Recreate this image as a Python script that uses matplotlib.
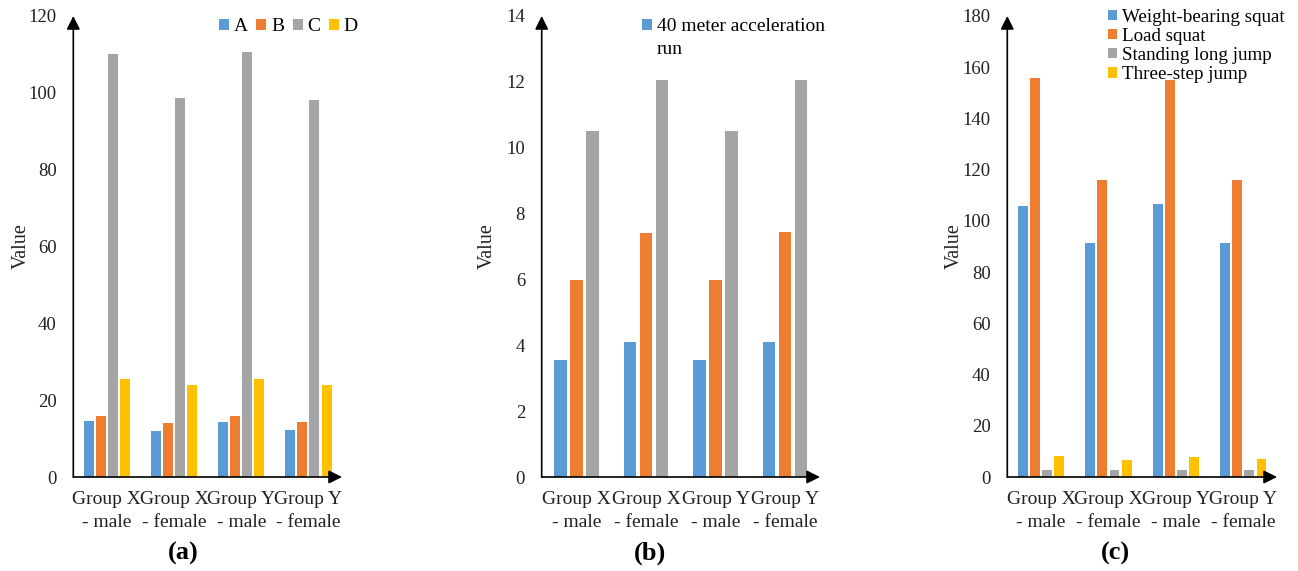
import matplotlib
matplotlib.use("Agg")
import matplotlib.pyplot as plt
import numpy as np
from matplotlib.patches import Rectangle

plt.rcParams['font.family'] = 'Liberation Serif'

# Excel default palette
BLUE, ORANGE, GRAY, YELLOW = '#5B9BD5', '#ED7D31', '#A5A5A5', '#FFC000'

groups = ["Group X\n- male", "Group X\n- female", "Group Y\n- male", "Group Y\n- female"]

# (a)
a_names = ["A", "B", "C", "D"]
a_A = [14.5, 12.1, 14.2, 12.3]
a_B = [16.0, 14.0, 16.0, 14.2]
a_C = [110.2, 98.7, 110.5, 98.1]
a_D = [25.6, 23.9, 25.6, 23.9]

# (b) - only the first series has a legend entry
b_name = "40 meter acceleration"
b_blue = [3.54, 4.11, 3.54, 4.09]
b_orange = [5.99, 7.40, 5.99, 7.44]
b_gray = [10.52, 12.07, 10.50, 12.07]

# (c)
c_names = ["Weight-bearing squat", "Load squat", "Standing long jump", "Three-step jump"]
c_weight = [105.7, 91.5, 106.4, 91.5]
c_load = [155.8, 115.8, 155.1, 115.8]
c_long = [2.8, 2.6, 2.8, 2.6]
c_three = [8.2, 6.5, 7.8, 7.1]

W, H = 1298, 571
fig = plt.figure(figsize=(W / 100, H / 100), dpi=100)

bottom = 1 - 477 / H
height = (477 - 16) / H
ax_a = fig.add_axes([73.3 / W, bottom, (342 - 73.3) / W, height])
ax_b = fig.add_axes([541.7 / W, bottom, (820 - 541.7) / W, height])
ax_c = fig.add_axes([1007.3 / W, bottom, (1277 - 1007.3) / W, height])

x = np.arange(len(groups))


def bars(ax, series, colors, pitch, width, labels):
    n = len(series)
    handles = []
    for i, (vals, col) in enumerate(zip(series, colors)):
        h = ax.bar(x + (i - (n - 1) / 2) * pitch, vals, width, color=col,
                   label=labels[i] if labels else None)
        handles.append(h)
    return handles


def style(ax, ymax, step):
    ax.set_xlim(-0.5, 3.5)
    ax.set_ylim(0, ymax)
    ax.set_yticks(np.arange(0, ymax + 1e-9, step))
    ax.set_xticks(x)
    ax.set_xticklabels(groups, fontsize=14, linespacing=1.45)
    ax.tick_params(axis='y', length=0, pad=12, labelsize=13.5, labelcolor='#222222')
    ax.tick_params(axis='x', length=0, pad=10, labelcolor='#222222')
    for s in ['top', 'right', 'left', 'bottom']:
        ax.spines[s].set_visible(False)
    arrow = dict(arrowstyle='-|>,head_length=0.8,head_width=0.4', color='black',
                 lw=1.2, shrinkA=0, shrinkB=0)
    ax.annotate('', xy=(0, 1), xytext=(0, 0), xycoords='axes fraction',
                textcoords='axes fraction', arrowprops=arrow, annotation_clip=False)
    ax.annotate('', xy=(1, 0), xytext=(0, 0), xycoords='axes fraction',
                textcoords='axes fraction', arrowprops=arrow, annotation_clip=False)
    ax.set_ylabel("Value", fontsize=14.5, color='#222222')
    ax.yaxis.set_label_coords(-0.16, 0.5)


bars(ax_a, [a_A, a_B, a_C, a_D], [BLUE, ORANGE, GRAY, YELLOW], 0.18, 0.148, a_names)
style(ax_a, 120, 20)
ax_a.legend(loc='upper left', bbox_to_anchor=(219 / W, 1 - 18 / H),
            bbox_transform=fig.transFigure, ncol=4, frameon=False, fontsize=14,
            borderpad=0, borderaxespad=0, handlelength=0.5, handleheight=0.5,
            handletextpad=0.25, columnspacing=0.45)

hb = bars(ax_b, [b_blue, b_orange, b_gray], [BLUE, ORANGE, GRAY], 0.23, 0.177, None)
style(ax_b, 14, 2)
blank = Rectangle((0, 0), 1, 1, alpha=0)
ax_b.legend([hb[0], blank], [b_name, "run"], loc='upper left',
            bbox_to_anchor=(642 / W, 1 - 18 / H), bbox_transform=fig.transFigure,
            frameon=False, fontsize=14, borderpad=0, borderaxespad=0,
            handlelength=0.5, handleheight=0.5, handletextpad=0.25, labelspacing=0.3)

bars(ax_c, [c_weight, c_load, c_long, c_three], [BLUE, ORANGE, GRAY, YELLOW],
     0.18, 0.148, c_names)
style(ax_c, 180, 20)
ax_c.legend(loc='upper left', bbox_to_anchor=(1108 / W, 1 - 8.5 / H),
            bbox_transform=fig.transFigure, frameon=False, fontsize=13.7,
            borderpad=0, borderaxespad=0, handlelength=0.45, handleheight=0.45,
            handletextpad=0.3, labelspacing=0.12)

for lab, cx in [("(a)", 183), ("(b)", 650), ("(c)", 1115)]:
    fig.text(cx / W, 1 - 553 / H, lab, fontsize=19, fontweight='bold',
             ha='center', va='center')

fig.savefig("out.png", dpi=100)
